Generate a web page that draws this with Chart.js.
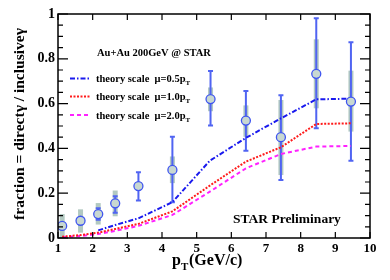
<!DOCTYPE html>
<html>
<head>
<meta charset="utf-8">
<script src="https://cdn.jsdelivr.net/npm/chart.js@4.4.1/dist/chart.umd.min.js"></script>
<style>
  html, body { margin: 0; padding: 0; background: #fff; }
  canvas { display: block; }
</style>
</head>
<body>
<canvas id="chart" width="390" height="280"></canvas>
<script>
// measured points (pT, fraction) and their error bars
const ptPoints = [1.12, 1.65, 2.16, 2.65, 3.32, 4.30, 5.40, 6.42, 7.43, 8.45, 9.45];
const fraction = [0.054, 0.077, 0.107, 0.155, 0.232, 0.304, 0.620, 0.524, 0.450, 0.733, 0.609];
const statLow  = [0.048, 0.071, 0.082, 0.113, 0.167, 0.160, 0.502, 0.390, 0.259, 0.490, 0.345];
const statHigh = [0.060, 0.083, 0.133, 0.186, 0.293, 0.452, 0.746, 0.656, 0.637, 0.981, 0.874];
const sysLow   = [0.000, 0.024, 0.060, 0.097, null, 0.245, 0.566, 0.452, 0.281, 0.579, 0.475];
const sysHigh  = [0.107, 0.128, 0.156, 0.212, null, 0.364, 0.672, 0.592, 0.616, 0.887, 0.747];

// theory curves
const curvePt   = [1.12, 1.65, 2.16, 2.65, 3.32, 4.30, 5.38, 6.42, 7.43, 8.45, 9.45];
const scale05   = [null, null, 0.034, 0.058, 0.088, 0.160, 0.345, 0.447, 0.534, 0.619, 0.622];
const scale10   = [0.006, 0.013, 0.024, 0.040, 0.063, 0.119, 0.234, 0.341, 0.405, 0.509, 0.512];
const scale20   = [0.003, 0.009, 0.018, 0.032, 0.054, 0.103, 0.207, 0.311, 0.375, 0.408, 0.411];

const xTicks = [1, 2, 3, 4, 5, 6, 7, 8, 9, 10];
const yTicks = [0, 0.2, 0.4, 0.6, 0.8, 1];

const SERIF = "'Liberation Serif', 'DejaVu Serif', serif";

function toXY(xs, ys) {
  return xs.map((x, i) => ({ x: x, y: ys[i] })).filter(p => p.y !== null);
}

// error bars under the markers
const errorBars = {
  id: "errorBars",
  beforeDatasetsDraw(chart) {
    const { ctx, scales: { x, y } } = chart;
    ctx.save();
    ptPoints.forEach((pt, i) => {
      const px = x.getPixelForValue(pt);
      if (sysLow[i] !== null) {
        ctx.strokeStyle = "rgba(165,192,182,0.85)";
        ctx.lineWidth = 5;
        ctx.beginPath();
        ctx.moveTo(px, y.getPixelForValue(sysLow[i]));
        ctx.lineTo(px, y.getPixelForValue(sysHigh[i]));
        ctx.stroke();
      }
      const lo = y.getPixelForValue(statLow[i]);
      const hi = y.getPixelForValue(statHigh[i]);
      ctx.strokeStyle = "#5064f2";
      ctx.lineWidth = 2;
      ctx.beginPath();
      ctx.moveTo(px, lo);
      ctx.lineTo(px, hi);
      ctx.moveTo(px - 2.5, lo);
      ctx.lineTo(px + 2.5, lo);
      ctx.moveTo(px - 2.5, hi);
      ctx.lineTo(px + 2.5, hi);
      ctx.stroke();
    });
    ctx.restore();
  }
};

function drawSub(ctx, x, y, main, sub, size) {
  ctx.font = "bold " + size + "px " + SERIF;
  ctx.fillText(main, x, y);
  const w = ctx.measureText(main).width;
  ctx.font = "bold " + Math.round(size * 0.7) + "px " + SERIF;
  ctx.fillText(sub, x + w, y + size * 0.3);
  return w + ctx.measureText(sub).width;
}

// frame, inward ticks, titles, legend and labels
const decorations = {
  id: "decorations",
  afterDraw(chart) {
    const { ctx, chartArea: a, scales: { x, y } } = chart;
    ctx.save();
    ctx.strokeStyle = "#000";
    ctx.lineWidth = 1.5;
    ctx.strokeRect(a.left, a.top, a.right - a.left, a.bottom - a.top);

    ctx.lineWidth = 1.2;
    ctx.beginPath();
    xTicks.forEach(v => {
      const px = x.getPixelForValue(v);
      ctx.moveTo(px, a.bottom); ctx.lineTo(px, a.bottom - 6);
      ctx.moveTo(px, a.top); ctx.lineTo(px, a.top + 6);
    });
    for (let k = 0; k <= 20; k++) {
      const py = y.getPixelForValue(k * 0.05);
      const len = k % 4 === 0 ? 10 : 5;
      ctx.moveTo(a.left, py); ctx.lineTo(a.left + len, py);
      ctx.moveTo(a.right, py); ctx.lineTo(a.right - len, py);
    }
    ctx.stroke();

    ctx.fillStyle = "#000";
    ctx.textBaseline = "alphabetic";
    ctx.textAlign = "left";

    // x title
    drawSub(ctx, 172, 265, "p", "T", 16);
    ctx.font = "bold 16px " + SERIF;
    ctx.fillText("(GeV/c)", 189, 265);

    // y title
    ctx.save();
    ctx.translate(24, 124);
    ctx.rotate(-Math.PI / 2);
    ctx.textAlign = "center";
    ctx.font = "bold 15.5px " + SERIF;
    ctx.fillText("fraction = direct\u03b3 / inclusive\u03b3", 0, 0);
    ctx.restore();

    // header
    ctx.font = "bold 10.5px " + SERIF;
    ctx.fillText("Au+Au 200GeV @ STAR", 97, 56);

    // legend
    const legend = [
      { label: "0.5", color: "#1a1aee", dash: [5, 2, 1.5, 2], y: 78.5 },
      { label: "1.0", color: "#ff1a1a", dash: [2, 1.5], y: 96.5 },
      { label: "2.0", color: "#ff22ff", dash: [4, 3], y: 115 }
    ];
    legend.forEach(item => {
      ctx.strokeStyle = item.color;
      ctx.lineWidth = 2;
      ctx.setLineDash(item.dash);
      ctx.beginPath();
      ctx.moveTo(70, item.y); ctx.lineTo(91, item.y);
      ctx.stroke();
      ctx.setLineDash([]);
      ctx.fillStyle = "#000";
      drawSub(ctx, 96, item.y + 3.5, "theory scale  \u03bc=" + item.label + "p", "T", 10.5);
    });

    ctx.font = "bold 13.5px " + SERIF;
    ctx.fillText("STAR Preliminary", 233, 223);
    ctx.restore();
  }
};

new Chart(document.getElementById("chart"), {
  type: "scatter",
  data: {
    datasets: [
      {
        label: "data",
        data: toXY(ptPoints, fraction),
        pointStyle: "circle",
        pointRadius: 4.5,
        pointBorderWidth: 1.3,
        pointBorderColor: "#3f55f0",
        pointBackgroundColor: "#c8d8d1"
      },
      {
        label: "theory scale \u03bc=0.5pT",
        data: toXY(curvePt, scale05),
        showLine: true,
        borderColor: "#1a1aee",
        borderWidth: 2,
        borderDash: [5, 2, 1.5, 2],
        pointRadius: 0
      },
      {
        label: "theory scale \u03bc=1.0pT",
        data: toXY(curvePt, scale10),
        showLine: true,
        borderColor: "#ff1a1a",
        borderWidth: 2,
        borderDash: [2, 1.5],
        pointRadius: 0
      },
      {
        label: "theory scale \u03bc=2.0pT",
        data: toXY(curvePt, scale20),
        showLine: true,
        borderColor: "#ff22ff",
        borderWidth: 2,
        borderDash: [4, 3],
        pointRadius: 0
      }
    ]
  },
  options: {
    responsive: false,
    animation: false,
    layout: { padding: { top: 14, right: 20, left: 0, bottom: 0 } },
    plugins: { legend: { display: false }, tooltip: { enabled: false } },
    scales: {
      x: {
        type: "linear",
        min: 1,
        max: 10,
        afterFit: s => { s.height = 42; },
        afterBuildTicks: s => { s.ticks = xTicks.map(v => ({ value: v })); },
        grid: { display: false, drawTicks: false },
        border: { display: false },
        ticks: {
          padding: 3,
          color: "#000",
          font: { family: SERIF, weight: "bold", size: 13 }
        }
      },
      y: {
        min: 0,
        max: 1,
        afterFit: s => { s.width = 58; },
        afterBuildTicks: s => { s.ticks = yTicks.map(v => ({ value: v })); },
        grid: { display: false, drawTicks: false },
        border: { display: false },
        ticks: {
          padding: 3,
          color: "#000",
          font: { family: SERIF, weight: "bold", size: 14 },
          callback: v => (v === 0 || v === 1) ? String(v) : v.toFixed(1)
        }
      }
    }
  },
  plugins: [errorBars, decorations]
});
</script>
</body>
</html>
